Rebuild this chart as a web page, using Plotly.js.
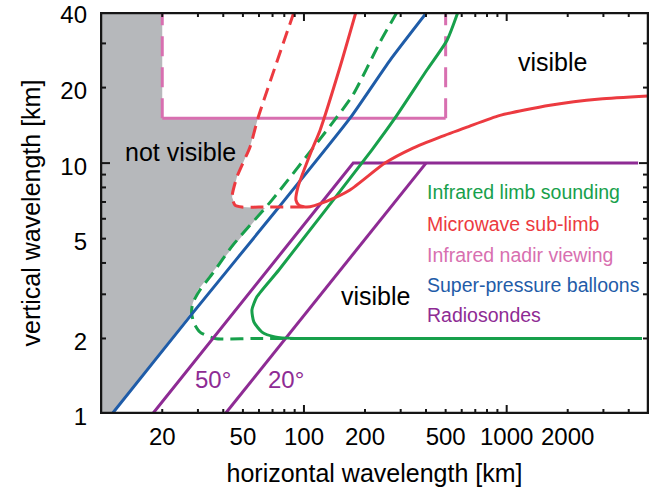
<!DOCTYPE html>
<html><head><meta charset="utf-8">
<script src="https://cdn.plot.ly/plotly-3.0.1.min.js"></script>
<style>html,body{margin:0;padding:0;background:#fff}#chart{width:654px;height:487px}</style>
</head><body><div id="chart"></div>
<script>
// ---- data (km) ----
const xTickVals = [20,30,40,50,60,70,80,90,100,200,300,400,500,600,700,800,900,1000,2000,3000,4000];
const xTickText = ['20','','','50','','','','','100','200','','','500','','','','','1000','2000','',''];
const yTickVals = [1,2,3,4,5,6,7,8,9,10,20,30,40];
const yTickText = ['1','2','','','5','','','','','10','20','','40'];
const xDecadeTicks = [100, 1000];
const yDecadeTicks = [10];

// "not visible" region
const greyX = [5, 20, 20, 59.3, 54.2, 46.7, 44.2, 45.7, 49.4, 64.2, 30.0, 28.3, 27.7, 11.3, 10.2, 5];
const greyY = [50, 50, 15.1, 15.1, 11.6, 8.8, 7.32, 6.80, 6.68, 6.62, 3.12, 2.77, 2.53, 1.0, 0.9, 0.9];

// Infrared nadir viewing (pink)
const nadirBoxX = [20, 500];
const nadirBoxY = [15.1, 15.1];
const nadirLeftX = [20, 20];
const nadirLeftY = [15.1, 40];
const nadirRightX = [500, 500];
const nadirRightY = [15.1, 40];

// Infrared limb sounding (green)
const limbSolidX = [575, 508, 404, 281, 216.5, 75.2, 58.6, 55.4, 56.6, 62.1, 71.9, 90, 150, 4650];
const limbSolidY = [40, 30.9, 23.5, 15.1, 11.3, 3.75, 2.93, 2.60, 2.33, 2.12, 2.03, 2.0, 2.0, 2.0];
const limbDashX = [288, 237, 174.5, 144, 69.5, 44.6, 35.6, 30.7, 28.3, 27.9, 28.7, 30.7, 36.4, 60, 4650];
const limbDashY = [40, 30.3, 18.7, 15.1, 7.12, 4.71, 3.65, 3.12, 2.77, 2.53, 2.30, 2.12, 2.0, 2.0, 2.0];

// Microwave sub-limb (red)
const mwSolidX = [180.5, 150.5, 120, 109.5, 93.4, 91.3, 94.5, 103.5, 129.9, 168.6, 250.9, 344.9, 468.8, 637.1, 926.8, 1635, 2884, 4977];
const mwSolidY = [40, 24.1, 13.5, 11.3, 8.02, 7.12, 6.80, 6.68, 7.06, 7.81, 10.0, 11.47, 12.69, 13.91, 15.5, 17.0, 18.0, 18.5];
const mwDashX = [89.3, 59.3, 54.2, 46.7, 44.2, 45.7, 49.4, 60, 100];
const mwDashY = [40, 15.1, 11.6, 8.8, 7.32, 6.80, 6.68, 6.68, 6.68];

// Super-pressure balloons (blue)
const balloonX = [10.2, 11.3, 28.3, 75.3, 168.7, 265.7, 404.5];
const balloonY = [0.9, 1.0, 2.53, 6.68, 15.1, 25.7, 40];

// Radiosondes (purple)
const sonde50X = [17.9, 175, 4450];
const sonde50Y = [1, 10, 10];
const sonde20X = [40.8, 400];
const sonde20Y = [1, 10];

const GREY = '#b6b8bb', GREEN = '#17a04b', RED = '#ec3a40', PINK = '#d86fb0', BLUE = '#1f5ca8', PURPLE = '#8e2b94';
const FRAME = '#151515';
const FONT = 'Liberation Sans, Arial, Helvetica, sans-serif';

const xRange = [0.994, 3.702];
const yRange = [0, 1.6023];
const PX_PER_DEC_X = 202.7, PX_PER_DEC_Y = 251;   // plot-area pixels per decade

function line(x, y, color, dash, smooth, width) {
  return {x: x, y: y, type: 'scatter', mode: 'lines', hoverinfo: 'skip', showlegend: false,
          line: {color: color, width: width || 3, dash: dash || 'solid',
                 shape: smooth ? 'spline' : 'linear', smoothing: smooth || 0}};
}

// frame + inward tick marks built from the tick arrays on the axes' own scale
const xMin = Math.pow(10, xRange[0]), xMax = Math.pow(10, xRange[1]);
const yMin = Math.pow(10, yRange[0]), yMax = Math.pow(10, yRange[1]);
const frameX = [xMin, xMax, xMax, xMin, xMin];
const frameY = [yMin, yMin, yMax, yMax, yMin];
const tickX = [], tickY = [];
xTickVals.forEach(v => {
  const f = Math.pow(10, (xDecadeTicks.includes(v) ? 9 : 5) / PX_PER_DEC_Y);
  tickX.push(v, v, null, v, v, null);
  tickY.push(yMin, yMin * f, null, yMax / f, yMax, null);
});
yTickVals.filter(v => v > 1 && v < 40).forEach(v => {
  const g = Math.pow(10, (yDecadeTicks.includes(v) ? 10 : 6) / PX_PER_DEC_X);
  tickX.push(xMin, xMin * g, null, xMax / g, xMax, null);
  tickY.push(v, v, null, v, v, null);
});

const traces = [
  {x: greyX, y: greyY, type: 'scatter', mode: 'lines', fill: 'toself', fillcolor: GREY,
   line: {width: 0, color: GREY}, hoverinfo: 'skip', showlegend: false},
  line(nadirBoxX, nadirBoxY, PINK),
  line(nadirLeftX, nadirLeftY, PINK, '20px,11px'),
  line(nadirRightX, nadirRightY, PINK, '20px,11px'),
  line(limbDashX, limbDashY, GREEN, '13px,7px', 0.6),
  line(balloonX, balloonY, BLUE, null, 0.5),
  line(sonde50X, sonde50Y, PURPLE),
  line(sonde20X, sonde20Y, PURPLE),
  line(limbSolidX, limbSolidY, GREEN, null, 0.6),
  line(mwDashX, mwDashY, RED, '13px,7px', 0.6),
  line(mwSolidX, mwSolidY, RED, null, 0.6),
  line(tickX, tickY, FRAME, null, 0, 2),
  line(frameX, frameY, FRAME, null, 0, 4.5)
];

function ann(text, x, y, color, size, xanchor) {
  return {text: text, x: x, y: y, xref: 'paper', yref: 'paper', showarrow: false,
          xanchor: xanchor || 'center', yanchor: 'middle',
          font: {family: FONT, size: size, color: color}};
}

const legendItems = ['Infrared limb sounding', 'Microwave sub-limb', 'Infrared nadir viewing', 'Super-pressure balloons', 'Radiosondes'];
const legendColors = [GREEN, RED, PINK, BLUE, PURPLE];
const legendY = [0.552, 0.4726, 0.3955, 0.3209, 0.2463];

const annotations = [
  ann('not visible', 0.1466, 0.652, '#000', 25),
  ann('visible', 0.824, 0.876, '#000', 25),
  ann('visible', 0.502, 0.2935, '#000', 25),
  ann('50°', 0.2067, 0.087, PURPLE, 24),
  ann('20°', 0.339, 0.087, PURPLE, 24)
];
legendItems.forEach((t, i) => annotations.push(ann(t, 0.592, legendY[i], legendColors[i], 19.5, 'left')));

const tickFont = {family: FONT, size: 24, color: '#000'};
const titleFont = {family: FONT, size: 25, color: '#000'};

const layout = {
  width: 654, height: 487,
  margin: {l: 100, r: 5, t: 12, b: 73},
  paper_bgcolor: '#fff', plot_bgcolor: '#fff',
  font: {family: FONT, color: '#000'},
  showlegend: false,
  xaxis: {type: 'log', range: xRange, tickmode: 'array', tickvals: xTickVals, ticktext: xTickText,
          ticks: '', showgrid: false, zeroline: false, showline: false,
          tickfont: tickFont, ticklabelstandoff: 6, ticklabeloverflow: 'allow',
          title: {text: 'horizontal wavelength [km]', font: titleFont}},
  yaxis: {type: 'log', range: yRange, tickmode: 'array', tickvals: yTickVals, ticktext: yTickText,
          ticks: '', showgrid: false, zeroline: false, showline: false,
          tickfont: tickFont, ticklabelstandoff: 12, ticklabeloverflow: 'allow', ticklabelshift: 3,
          title: {text: 'vertical wavelength [km]', font: titleFont}},
  annotations: annotations
};

Plotly.newPlot('chart', traces, layout, {displayModeBar: false});
</script>
</body></html>
